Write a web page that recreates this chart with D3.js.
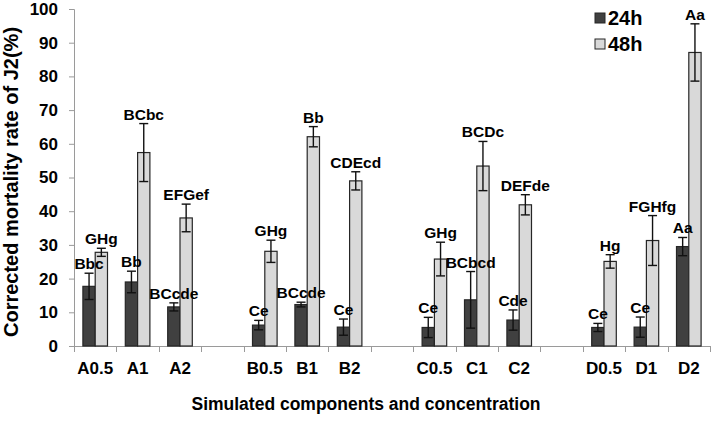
<!DOCTYPE html>
<html>
<head>
<meta charset="utf-8">
<script src="https://cdn.jsdelivr.net/npm/d3@7"></script>
<style>
  html, body { margin: 0; padding: 0; background: #fff; }
  svg { display: block; font-family: "Liberation Sans", Arial, sans-serif; }
</style>
</head>
<body>
<svg id="chart" width="711" height="423"></svg>
<script>
// ---- data ----
const categories = ["A0.5", "A1", "A2", "B0.5", "B1", "B2", "C0.5", "C1", "C2", "D0.5", "D1", "D2"];
const seriesNames = ["24h", "48h"];
const values24 = [17.7, 19.0, 11.6, 6.2, 12.3, 5.6, 5.5, 13.7, 7.7, 5.5, 5.6, 29.5];
const errors24 = [3.9, 3.2, 1.2, 1.4, 0.7, 2.4, 3.0, 8.4, 3.0, 1.2, 3.0, 2.7];
const labels24 = ["Bbc", "Bb", "BCcde", "Ce", "BCcde", "Ce", "Ce", "BCbcd", "Cde", "Ce", "Ce", "Aa"];
const values48 = [27.8, 57.4, 38.0, 28.1, 62.1, 49.0, 25.8, 53.4, 41.9, 25.1, 31.3, 87.1];
const errors48 = [1.2, 8.6, 4.1, 3.3, 3.0, 2.7, 5.0, 7.3, 3.0, 2.0, 7.4, 8.5];
const labels48 = ["GHg", "BCbc", "EFGef", "GHg", "Bb", "CDEcd", "GHg", "BCDc", "DEFde", "Hg", "FGHfg", "Aa"];
const yTicks = [0, 10, 20, 30, 40, 50, 60, 70, 80, 90, 100];
const yTitle = "Corrected mortality rate of J2(%)";
const xTitle = "Simulated components and concentration";

// ---- layout ----
const svg = d3.select("#chart");
const fills = ["#404040", "#d9d9d9"];

// slot domain: a blank slot after every group of three categories (except last)
const slots = [];
categories.forEach((c, i) => {
  slots.push(c);
  if (i % 3 === 2 && i < categories.length - 1) slots.push("gap" + i);
});

const x = d3.scaleBand().domain(slots).range([74, 710]).paddingInner(0.42).paddingOuter(0.21);
const xs = d3.scaleBand().domain(seriesNames).range([0, x.bandwidth()]).padding(0);
const y = d3.scaleLinear().domain([0, 100]).range([346, 9]);

const data = categories.map((c, i) => ({
  cat: c,
  series: [
    { name: "24h", v: values24[i], e: errors24[i], lab: labels24[i] },
    { name: "48h", v: values48[i], e: errors48[i], lab: labels48[i] }
  ]
}));

// axes
const axisColor = "#9a9a9a";
// y axis
const gy = svg.append("g").attr("transform", "translate(74,0)");
gy.call(d3.axisLeft(y).tickValues(yTicks).tickSize(5).tickPadding(11));
gy.select(".domain").attr("stroke", axisColor);
gy.selectAll(".tick line").attr("stroke", axisColor);
gy.selectAll(".tick text")
  .attr("font-size", 17).attr("font-weight", "bold").attr("fill", "#000")
  .attr("font-family", "Liberation Sans, Arial, sans-serif");

// x axis line & boundary ticks
const step = x.step();
const xStart = x.range()[0];
svg.append("line").attr("x1", 74).attr("x2", 711).attr("y1", y(0) + 0.5).attr("y2", y(0) + 0.5)
  .attr("stroke", axisColor);
const boundaries = d3.range(slots.length + 1).map(i => xStart + i * step);
svg.append("g").selectAll("line").data(boundaries).join("line")
  .attr("x1", d => Math.round(d) + 0.5).attr("x2", d => Math.round(d) + 0.5)
  .attr("y1", y(0)).attr("y2", y(0) + 6)
  .attr("stroke", axisColor);

// x labels (blank slots unlabeled)
const gx = svg.append("g").attr("transform", `translate(0,${y(0)})`);
gx.call(d3.axisBottom(x).tickSize(0).tickPadding(16).tickFormat(d => d.startsWith("gap") ? "" : d));
gx.select(".domain").remove();
gx.selectAll(".tick text")
  .attr("font-size", 17).attr("font-weight", "bold").attr("fill", "#000")
  .attr("font-family", "Liberation Sans, Arial, sans-serif");

// bars
const groups = svg.append("g").selectAll("g").data(data).join("g")
  .attr("transform", d => `translate(${x(d.cat)},0)`);

groups.selectAll("rect").data(d => d.series).join("rect")
  .attr("x", d => xs(d.name))
  .attr("y", d => y(d.v))
  .attr("width", xs.bandwidth())
  .attr("height", d => y(0) - y(d.v))
  .attr("fill", (d, i) => fills[i])
  .attr("stroke", "#262626")
  .attr("stroke-width", 1.2);

// error bars
const capW = 4.5;
const eb = groups.selectAll("g.err").data(d => d.series).join("g").attr("class", "err")
  .attr("transform", d => `translate(${xs(d.name) + xs.bandwidth() / 2},0)`);
eb.append("line").attr("x1", 0).attr("x2", 0)
  .attr("y1", d => y(d.v + d.e)).attr("y2", d => y(Math.max(0, d.v - d.e)))
  .attr("stroke", "#111").attr("stroke-width", 1.4);
eb.append("line").attr("x1", -capW).attr("x2", capW)
  .attr("y1", d => y(d.v + d.e)).attr("y2", d => y(d.v + d.e))
  .attr("stroke", "#111").attr("stroke-width", 1.4);
eb.append("line").attr("x1", -capW).attr("x2", capW)
  .attr("y1", d => y(Math.max(0, d.v - d.e))).attr("y2", d => y(Math.max(0, d.v - d.e)))
  .attr("stroke", "#111").attr("stroke-width", 1.4);

// significance labels
groups.selectAll("text.lab").data(d => d.series).join("text").attr("class", "lab")
  .attr("x", d => xs(d.name) + xs.bandwidth() / 2)
  .attr("y", d => y(d.v + d.e) - 4)
  .attr("text-anchor", "middle")
  .attr("font-size", 15.5).attr("font-weight", "bold").attr("fill", "#000")
  .text(d => d.lab);

// axis titles
svg.append("text")
  .attr("transform", "translate(18,182) rotate(-90)")
  .attr("text-anchor", "middle")
  .attr("font-size", 20).attr("font-weight", "bold").attr("fill", "#000")
  .text(yTitle);
svg.append("text")
  .attr("x", 366).attr("y", 410)
  .attr("text-anchor", "middle")
  .attr("font-size", 17.5).attr("font-weight", "bold").attr("fill", "#000")
  .text(xTitle);

// legend
const legend = svg.append("g").attr("transform", "translate(595,13)");
const li = legend.selectAll("g").data(seriesNames).join("g")
  .attr("transform", (d, i) => `translate(0,${i * 26})`);
li.append("rect").attr("width", 10).attr("height", 10)
  .attr("fill", (d, i) => fills[i]).attr("stroke", "#262626").attr("stroke-width", 1);
li.append("text").attr("x", 13).attr("y", 12)
  .attr("font-size", 20).attr("font-weight", "bold").attr("fill", "#000")
  .text(d => d);
</script>
</body>
</html>
